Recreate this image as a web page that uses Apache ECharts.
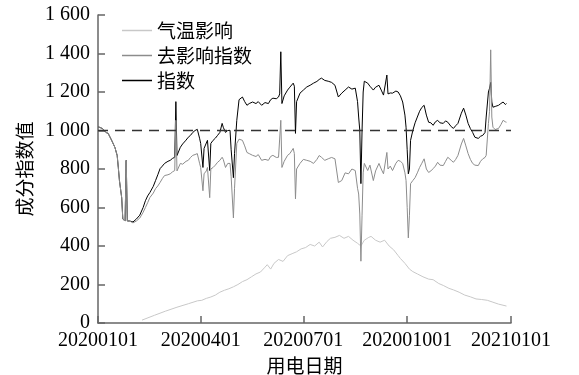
<!DOCTYPE html>
<html>
<head>
<meta charset="utf-8">
<script src="https://cdn.jsdelivr.net/npm/echarts@6/dist/echarts.min.js"></script>
<style>
  html, body { margin: 0; padding: 0; background: #fff; }
  #chart { width: 579px; height: 375px; }
</style>
</head>
<body>
<div id="chart"></div>
<script>
// day index from 2020-01-01
var tickDays = [0, 91, 182, 274, 366];
var tickLabels = ['20200101', '20200401', '20200701', '202001001', '20210101'];

var days = [0, 2, 4, 7, 9, 12, 15, 17, 18, 19, 21, 22, 24, 25, 26, 28, 31, 34, 37, 40,
    42, 44, 46, 49, 51, 53, 55, 57, 59, 62, 64, 66, 68, 69, 70, 73, 75, 78, 80, 82,
    84, 86, 88, 90, 91, 93, 94, 96, 97, 99, 100, 102, 104, 106, 108, 110, 111, 113, 115, 117,
    118, 120, 121, 123, 125, 126, 128, 130, 132, 134, 137, 140, 142, 145, 148, 151, 153, 155, 158, 160,
    161, 162, 163, 165, 168, 170, 173, 174, 175, 176, 179, 182, 185, 188, 191, 194, 196, 198, 201, 204,
    207, 210, 213, 216, 219, 222, 225, 228, 230, 231, 232, 233, 234, 235, 236, 239, 241, 244, 246, 249,
    251, 253, 256, 257, 259, 261, 264, 266, 268, 270, 272, 273, 274, 275, 276, 277, 279, 281, 283, 285,
    287, 289, 291, 293, 295, 297, 299, 301, 303, 306, 308, 310, 313, 315, 317, 319, 322, 324, 326, 328,
    330, 332, 334, 337, 339, 341, 343, 344, 346, 347, 348, 349, 350, 352, 355, 357, 359, 361, 362];

var indexVals = [1020, 1015, 1010, 990, 985, 950, 912, 870, 808, 740, 651, 540, 530, 845, 530, 530, 525, 540, 560, 600,
    635, 660, 678, 710, 740, 770, 802, 815, 829, 840, 845, 855, 861, 1150, 870, 913, 930, 950, 965, 975,
    990, 1000, 1006, 960, 933, 808, 907, 935, 949, 792, 933, 949, 960, 975, 990, 1037, 1017, 990, 1000, 1001,
    900, 755, 880, 1053, 1160, 1168, 1174, 1150, 1131, 1140, 1148, 1140, 1150, 1131, 1145, 1140, 1160, 1168, 1165, 1174,
    1190, 1409, 1140, 1180, 1210, 1225, 1246, 1230, 985, 1150, 1194, 1210, 1226, 1235, 1246, 1255, 1265, 1272, 1260, 1256,
    1250, 1235, 1174, 1194, 1210, 1226, 1215, 1220, 1150, 1070, 1001, 724, 1000, 1200, 1256, 1246, 1230, 1210, 1225, 1235,
    1210, 1184, 1288, 1190, 1195, 1194, 1205, 1200, 1180, 1148, 1080, 1017, 900, 775, 800, 949, 1000, 1040, 1070, 1100,
    1120, 1131, 1080, 1043, 1040, 1027, 1045, 1053, 1040, 1037, 1050, 1043, 1020, 1011, 1025, 1037, 1090, 1116, 1080, 1037,
    1010, 990, 965, 959, 970, 975, 990, 1070, 1200, 1220, 1250, 1148, 1121, 1125, 1131, 1140, 1148, 1135, 1140];

var adjustedVals = [1020, 1015, 1010, 990, 985, 950, 912, 870, 808, 740, 651, 540, 530, 845, 530, 530, 520, 530, 545, 575,
    600, 625, 652, 675, 698, 712, 730, 750, 766, 770, 775, 785, 792, 1053, 790, 829, 825, 840, 845, 860,
    871, 875, 880, 830, 808, 687, 775, 790, 808, 651, 800, 808, 820, 835, 845, 861, 850, 808, 829, 829,
    760, 546, 700, 933, 955, 959, 949, 920, 886, 880, 871, 865, 875, 845, 850, 845, 865, 871, 860, 861,
    870, 1053, 808, 840, 871, 880, 907, 880, 645, 800, 829, 850, 845, 840, 829, 850, 870, 861, 845, 853,
    860, 853, 730, 740, 780, 775, 800, 792, 700, 670, 566, 321, 560, 780, 829, 792, 820, 740, 790, 829,
    800, 775, 886, 800, 815, 792, 830, 845, 840, 829, 780, 740, 600, 442, 560, 724, 740, 755, 780, 808,
    830, 853, 800, 782, 790, 802, 815, 835, 820, 818, 840, 861, 845, 835, 850, 871, 930, 959, 920, 880,
    850, 829, 820, 818, 840, 853, 860, 871, 1037, 1100, 1419, 1070, 1017, 1005, 1011, 1030, 1053, 1045, 1043];

var tempDays = [39, 50, 60, 70, 80, 88, 92, 96, 100, 104, 108, 112, 116, 120, 124, 128, 132, 136, 140, 144,
    148, 150, 153, 156, 160, 164, 168, 172, 176, 180, 184, 188, 192, 196, 199, 203, 206, 210, 214, 218,
    222, 226, 230, 233, 236, 240, 242, 246, 250, 254, 258, 262, 266, 268, 272, 276, 279, 283, 288, 293,
    297, 302, 306, 311, 315, 320, 325, 330, 335, 340, 345, 350, 355, 362];
var tempVals = [15, 40, 62, 82, 100, 115, 118, 128, 135, 145, 160, 170, 178, 188, 200, 215, 225, 240, 255, 265,
    290, 303, 280, 310, 330, 320, 350, 360, 370, 385, 392, 408, 400, 420, 395, 424, 440, 445, 455, 440,
    450, 430, 414, 400, 430, 445, 450, 430, 420, 430, 400, 380, 350, 335, 310, 280, 267, 255, 240, 228,
    225, 205, 195, 180, 172, 160, 145, 136, 125, 122, 118, 108, 98, 88];

function pairs(xs, ys) {
    return xs.map(function (x, i) { return [x, ys[i]]; });
}

var font = 'Liberation Serif';
var cjk = 'Noto Sans CJK SC';
var chart = echarts.init(document.getElementById('chart'), null, {renderer: 'canvas'});

var option = {
    animation: false,
    grid: {left: 98, right: 68, top: 15, bottom: 52, outerBoundsMode: 'none'},
    legend: {
        orient: 'vertical',
        left: 117,
        top: 15,
        icon: 'rect',
        itemWidth: 30,
        itemHeight: 1.5,
        itemGap: 4,
        textStyle: {fontFamily: cjk, fontSize: 19, color: '#000', lineHeight: 21},
        data: ['气温影响', '去影响指数', '指数']
    },
    xAxis: {
        type: 'value',
        min: 0,
        max: 366,
        name: '用电日期',
        nameLocation: 'middle',
        nameGap: 28,
        nameTextStyle: {fontFamily: cjk, fontSize: 19, color: '#000'},
        splitLine: {show: false},
        axisLine: {lineStyle: {color: '#666', width: 1.5}},
        axisTick: {inside: true, length: 7, customValues: tickDays, lineStyle: {color: '#666', width: 1.5}},
        axisLabel: {
            customValues: tickDays,
            margin: 8,
            fontFamily: font,
            fontSize: 20,
            color: '#000',
            formatter: function (v) { return tickLabels[tickDays.indexOf(v)]; }
        }
    },
    yAxis: {
        type: 'value',
        min: 0,
        max: 1600,
        interval: 200,
        name: '成分指数值',
        nameLocation: 'middle',
        nameGap: 64,
        nameTextStyle: {fontFamily: cjk, fontSize: 19, color: '#000'},
        splitLine: {show: false},
        axisLine: {show: true, lineStyle: {color: '#666', width: 1.5}},
        axisTick: {show: true, inside: true, length: 7, lineStyle: {color: '#666', width: 1.5}},
        axisLabel: {
            margin: 8,
            fontFamily: font,
            fontSize: 20,
            color: '#000',
            formatter: function (v) {
                return v >= 1000 ? Math.floor(v / 1000) + ' ' + String(v % 1000).padStart(3, '0') : String(v);
            }
        }
    },
    series: [
        {
            name: '气温影响',
            type: 'line',
            symbol: 'none',
            data: pairs(tempDays, tempVals),
            lineStyle: {color: '#c8c8c8', width: 1},
            itemStyle: {color: '#c8c8c8'}
        },
        {
            name: '指数',
            type: 'line',
            symbol: 'none',
            data: pairs(days, indexVals),
            lineStyle: {color: '#000', width: 1},
            itemStyle: {color: '#000'},
            markLine: {
                silent: true,
                symbol: 'none',
                label: {show: false},
                lineStyle: {color: '#333', type: [10, 7], width: 1.3},
                data: [{yAxis: 1000}]
            }
        },
        {
            name: '去影响指数',
            type: 'line',
            symbol: 'none',
            data: pairs(days, adjustedVals),
            lineStyle: {color: '#8c8c8c', width: 1},
            itemStyle: {color: '#8c8c8c'}
        }
    ]
};

chart.setOption(option);
</script>
</body>
</html>
